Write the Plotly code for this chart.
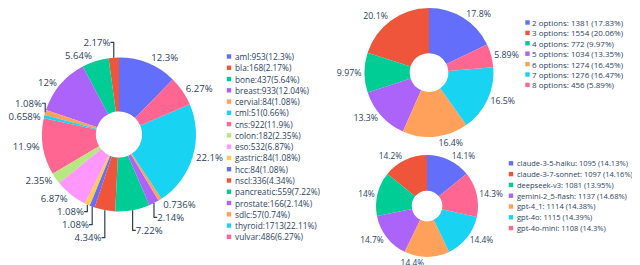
import plotly.graph_objects as go

W, H = 640, 265

# ---------------- data ----------------
cancer_names = ["aml", "bla", "bone", "breast", "cervial", "cml", "cns", "colon", "eso",
                "gastric", "hcc", "nscl", "pancreatic", "prostate", "sdlc", "thyroid", "vulvar"]
cancer_counts = [953, 168, 437, 933, 84, 51, 922, 182, 532, 84, 84, 336, 559, 166, 57, 1713, 486]
cancer_pct_labels = ["12.3%", "2.17%", "5.64%", "12.04%", "1.08%", "0.66%", "11.9%", "2.35%", "6.87%",
                     "1.08%", "1.08%", "4.34%", "7.22%", "2.14%", "0.74%", "22.11%", "6.27%"]

option_names = ["2 options", "3 options", "4 options", "5 options", "6 options", "7 options", "8 options"]
option_counts = [1381, 1554, 772, 1034, 1274, 1276, 456]
option_pct_labels = ["17.83%", "20.06%", "9.97%", "13.35%", "16.45%", "16.47%", "5.89%"]

model_names = ["claude-3-5-haiku", "claude-3-7-sonnet", "deepseek-v3", "gemini-2_5-flash",
               "gpt-4_1", "gpt-4o", "gpt-4o-mini"]
model_counts = [1095, 1097, 1081, 1137, 1114, 1115, 1108]
model_pct_labels = ["14.13%", "14.16%", "13.95%", "14.68%", "14.38%", "14.39%", "14.3%"]

palette = ["#636efa", "#EF553B", "#00cc96", "#ab63fa", "#FFA15A",
           "#19d3f3", "#FF6692", "#B6E880", "#FF97FF", "#FECB52"]
TXT = "#2a3f5f"

cancer_labels = [f"{n}:{c}({p})" for n, c, p in zip(cancer_names, cancer_counts, cancer_pct_labels)]
option_labels = [f"{n}: {c} ({p})" for n, c, p in zip(option_names, option_counts, option_pct_labels)]
model_labels = [f"{n}: {c} ({p})" for n, c, p in zip(model_names, model_counts, model_pct_labels)]


def colors(n):
    return [palette[i % len(palette)] for i in range(n)]


def px_dom(x0, x1, y0, y1):
    # pixel box (top-left origin) -> paper domain
    return dict(x=[max(0, x0 / W), min(1, x1 / W)], y=[max(0, 1 - y1 / H), min(1, 1 - y0 / H)])


fig = go.Figure()

pies = [
    (cancer_labels, cancer_counts, px_dom(34, 188, 49.5, 203.5), 9.6),
    (option_labels, option_counts, px_dom(356, 486, 0, 129), 8.8),
    (model_labels, model_counts, px_dom(368, 470, 147, 249), 8.4),
]
for labels, vals, dom, fs in pies:
    fig.add_trace(go.Pie(
        labels=labels, values=vals, sort=False, direction="counterclockwise",
        hole=0.3, textinfo="percent", textposition="outside",
        outsidetextfont=dict(size=fs, color=TXT, family="Open Sans"),
        marker=dict(colors=colors(len(vals))),
        domain=dom, automargin=False, showlegend=False,
    ))

annotations = []
shapes = []


def legend(labels, mx, tx, y0, dy, fs, sq=4.4):
    cols = colors(len(labels))
    for i, lab in enumerate(labels):
        y = y0 + dy * i
        shapes.append(dict(type="rect", xref="paper", yref="paper",
                           x0=(mx - sq / 2) / W, x1=(mx + sq / 2) / W,
                           y0=1 - (y + sq / 2) / H, y1=1 - (y - sq / 2) / H,
                           fillcolor=cols[i], line=dict(width=0)))
        annotations.append(dict(text=lab, xref="paper", yref="paper",
                                x=(tx - 2) / W, y=1 - y / H, xanchor="left", yanchor="middle",
                                borderpad=0, borderwidth=0,
                                showarrow=False, font=dict(size=fs, color=TXT, family="Open Sans")))


legend(cancer_labels, 221, 229, 48.5, 11.27, 8.3)
legend(option_labels, 519.5, 526, 14.5, 10.4, 8.0)
legend(model_labels, 503, 510.5, 155.3, 10.8, 7.5)

fig.update_layout(
    width=W, height=H, margin=dict(l=0, r=0, t=0, b=0),
    paper_bgcolor="white", plot_bgcolor="white",
    font=dict(family="Open Sans", color=TXT),
    showlegend=False, annotations=annotations, shapes=shapes,
)

fig.write_html("out.html")
